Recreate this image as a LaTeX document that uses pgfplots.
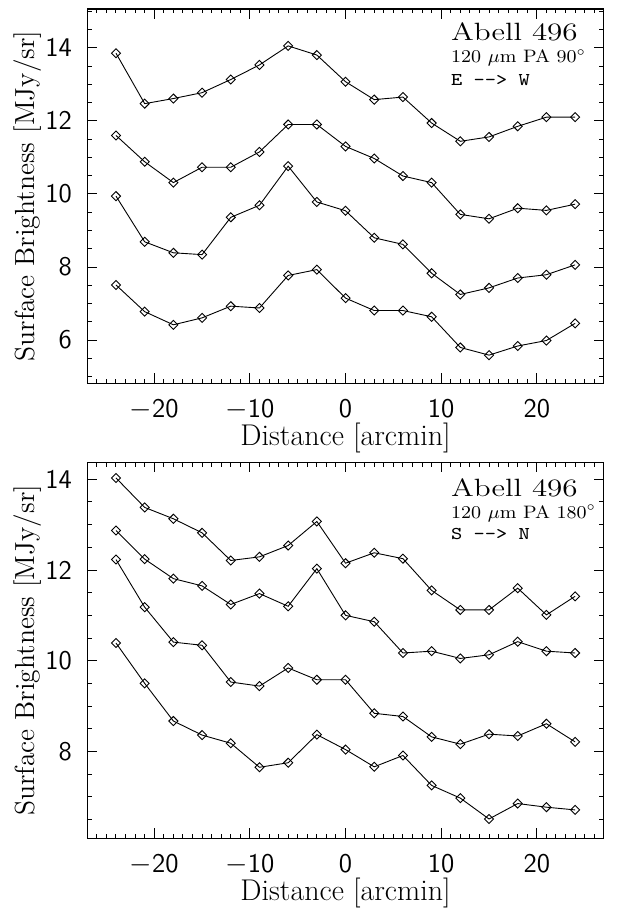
\documentclass[border=0pt]{standalone}
\usepackage{fontspec}
\usepackage{graphicx}
\usepackage{pgfplots}
\usepackage{pgfplotstable}
\pgfplotsset{compat=1.18}

% 120 micron profiles, PA 90 (E->W)
\pgfplotstableread{
x    s1     s2     s3     s4
-24  13.85  11.60  9.94   7.51
-21  12.47  10.88  8.69   6.78
-18  12.61  10.31  8.39   6.42
-15  12.77  10.73  8.34   6.61
-12  13.13  10.73  9.36   6.93
-9   13.53  11.15  9.69   6.88
-6   14.05  11.90  10.76  7.77
-3   13.80  11.90  9.78   7.93
0    13.07  11.30  9.54   7.15
3    12.58  10.97  8.80   6.81
6    12.65  10.49  8.62   6.81
9    11.94  10.31  7.83   6.64
12   11.44  9.44   7.25   5.80
15   11.56  9.32   7.43   5.59
18   11.85  9.61   7.70   5.84
21   12.10  9.55   7.79   5.99
24   12.10  9.72   8.06   6.46
}\pavert

% PA 180 (S->N)
\pgfplotstableread{
x    s1     s2     s3     s4
-24  14.03  12.87  12.23  10.39
-21  13.38  12.24  11.18  9.50
-18  13.13  11.81  10.41  8.67
-15  12.82  11.65  10.34  8.36
-12  12.21  11.24  9.53   8.18
-9   12.29  11.48  9.44   7.65
-6   12.54  11.20  9.84   7.75
-3   13.07  12.03  9.58   8.37
0    12.15  11.00  9.58   8.04
3    12.38  10.86  8.84   7.66
6    12.25  10.17  8.77   7.91
9    11.55  10.21  8.32   7.25
12   11.12  10.05  8.16   6.97
15   11.12  10.13  8.38   6.51
18   11.60  10.42  8.34   6.85
21   11.01  10.21  8.61   6.77
24   11.42  10.17  8.21   6.71
}\pahoriz

\pgfplotsset{
  abell/.style={
    scale only axis, width=258.25pt,
    xmin=-27, xmax=27,
    xtick={-20,-10,0,10,20},
    minor xtick={-27,-26,...,27},
    major tick length=5pt, minor tick length=2.2pt,
    tick style={black, line width=0.5pt},
    axis line style={line width=0.6pt},
    xticklabel={$\mathsf{\pgfmathprintnumber{\tick}}$},
    yticklabel={$\mathsf{\pgfmathprintnumber{\tick}}$},
    tick label style={font=\fontsize{13.5}{15}\selectfont},
    xticklabel style={yshift=-4.5pt},
    yticklabel style={xshift=-4.2pt},
    xlabel={Distance [arcmin]},
    ylabel={Surface Brightness [MJy/sr]},
    xlabel style={font=\fontsize{15}{17}\selectfont,
      at={([yshift=-31pt]axis description cs:0.5,0)}, anchor=base},
    ylabel style={font=\fontsize{13.8}{16}\selectfont,
      at={([xshift=-26.3pt]axis description cs:0,0.5)}, anchor=base},
  },
  ser/.style={black, line width=0.45pt, mark=square, mark size=1.6pt,
    mark options={rotate=45, fill=white, solid, line width=0.45pt}},
}
\tikzset{big/.style={anchor=base west, inner sep=0pt}}

\begin{document}
\begin{tikzpicture}
\useasboundingbox (-43.65pt,-34.85pt) rectangle (265.35pt,419.15pt);

\begin{axis}[abell, at={(0,227.5pt)}, anchor=south west,
    height=187.15pt, ymin=4.82, ymax=15.06,
    ytick={6,8,10,12,14}, minor ytick={5,5.5,...,15}]
  \addplot[ser] table[x=x, y=s1] {\pavert};
  \addplot[ser] table[x=x, y=s2] {\pavert};
  \addplot[ser] table[x=x, y=s3] {\pavert};
  \addplot[ser] table[x=x, y=s4] {\pavert};
  \node[big] at (axis cs:11.0,14.20)
    {\scalebox{1.24}[1]{\fontsize{12.5}{14}\selectfont Abell 496}};
  \node[big] at (axis cs:11.0,13.59)
    {\scalebox{1.08}[1]{\fontsize{9}{10}\selectfont 120 $\mu$m PA 90$^\circ$}};
  \node[big] at (axis cs:11.0,12.98)
    {\scalebox{1.19}[1]{\fontsize{9}{10}\selectfont\texttt{E -{}-> W}}};
\end{axis}

\begin{axis}[abell, at={(0,0)}, anchor=south west,
    height=188pt, ymin=6.084, ymax=14.375,
    ytick={8,10,12,14}, minor ytick={6.5,7,...,14}]
  \addplot[ser] table[x=x, y=s1] {\pahoriz};
  \addplot[ser] table[x=x, y=s2] {\pahoriz};
  \addplot[ser] table[x=x, y=s3] {\pahoriz};
  \addplot[ser] table[x=x, y=s4] {\pahoriz};
  \node[big] at (axis cs:11.0,13.62)
    {\scalebox{1.24}[1]{\fontsize{12.5}{14}\selectfont Abell 496}};
  \node[big] at (axis cs:11.0,13.14)
    {\scalebox{1.08}[1]{\fontsize{9}{10}\selectfont 120 $\mu$m PA 180$^\circ$}};
  \node[big] at (axis cs:11.0,12.68)
    {\scalebox{1.19}[1]{\fontsize{9}{10}\selectfont\texttt{S -{}-> N}}};
\end{axis}
\end{tikzpicture}
\end{document}
